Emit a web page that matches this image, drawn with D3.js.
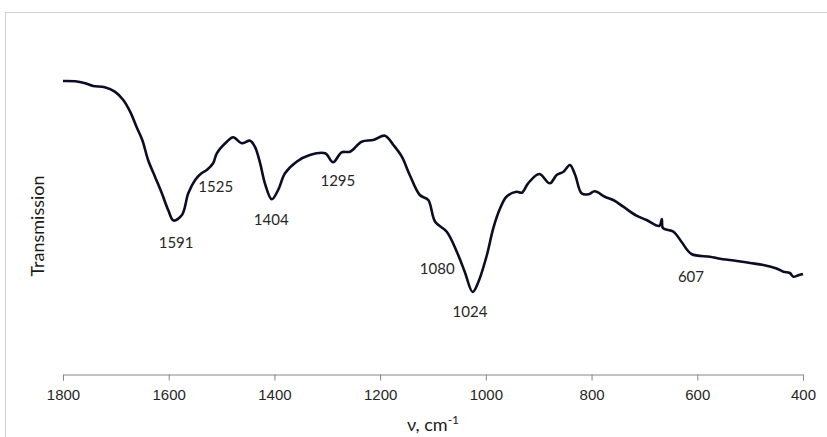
<!DOCTYPE html>
<html>
<head>
<meta charset="utf-8">
<script src="https://cdn.jsdelivr.net/npm/d3@7"></script>
<style>
    body { margin: 0; background: #fff; }
    svg { display: block; font-family: Lato, 'Open Sans', sans-serif; }
</style>
</head>
<body>
<div id="spectrum"></div>
<script>
// wavenumbers (cm-1) and transmission (arbitrary units)
const wavenumbers = [1800, 1777, 1758, 1743, 1721, 1702, 1686, 1673, 1661, 1650, 1639, 1626, 1613, 1601,
    1591, 1575, 1563, 1550, 1538, 1528, 1516, 1509, 1490, 1478, 1462, 1446, 1437, 1427, 1418, 1405,
    1393, 1380, 1358, 1333, 1304, 1289, 1273, 1257, 1235, 1213, 1191, 1175, 1159, 1144, 1125, 1109,
    1096, 1074, 1055, 1040, 1025, 1014, 998, 986, 973, 961, 942, 932, 920, 899, 879, 866, 853, 841,
    831, 819, 806, 794, 775, 759, 740, 715, 696, 672, 667, 665, 645, 630, 611, 576, 560, 525, 500,
    475, 450, 437, 425, 418, 410, 400];
const transmission = [293, 292.7, 290.7, 288, 286.7, 282.3, 274, 262.3, 247.3, 234, 214, 197.3, 180.7, 164,
    153.5, 159, 180.7, 194, 200.7, 204, 210.7, 220.7, 232.3, 236.7, 230.7, 233.3, 227.3, 210.7, 190.7, 174.7,
    184, 200.7, 212.3, 219, 220.7, 211.7, 221.7, 222.3, 232.3, 234, 238.3, 229, 217.3, 199, 179, 174,
    152.3, 142.3, 122.3, 102.3, 82, 92.3, 119, 145.7, 165.7, 177.3, 182.3, 181.3, 190.7, 200, 190.7, 199, 202.3, 209,
    199, 180.7, 179.7, 182.7, 177.3, 174, 167.3, 158.3, 154, 148, 155, 146, 142.3, 132.3, 120, 117.3, 115.5, 113, 111,
    109, 105.5, 102.3, 101, 97.3, 98.5, 100];

// peak annotations: text, and where the label sits (wavenumber, transmission)
const peakNames = ['1591', '1525', '1404', '1295', '1080', '1024', '607'];
const peakLabelWn = [1586, 1511, 1406, 1280, 1092, 1030, 612];
const peakLabelT = [132, 188, 155, 194, 106, 63, 98];

const xTicks = [1800, 1600, 1400, 1200, 1000, 800, 600, 400];

const width = 827;
const height = 437;
const plotLeft = 63;
const plotRight = 803;
const axisY = 374;

function drawSpectrum() {
    const svg = d3.select('#spectrum')
        .append('svg')
        .attr('width', width)
        .attr('height', height);

    // chart frame
    svg.append('rect')
        .attr('x', 5.5)
        .attr('y', 12.5)
        .attr('width', 840)
        .attr('height', 440)
        .attr('fill', 'none')
        .attr('stroke', '#d0d0d0');

    const xScale = d3.scaleLinear()
        .domain([1800, 400])
        .range([plotLeft, plotRight]);

    const yScale = d3.scaleLinear()
        .domain([0, 300])
        .range([axisY, axisY - 300]);

    const xAxis = d3.axisBottom(xScale)
        .tickValues(xTicks)
        .tickFormat(d3.format('d'))
        .tickSize(6)
        .tickSizeOuter(6)
        .tickPadding(9);

    const xAxisGroup = svg.append('g')
        .attr('id', 'x-axis')
        .attr('transform', `translate(0, ${axisY + 0.5})`)
        .call(xAxis);

    xAxisGroup.selectAll('path, line').attr('stroke', '#868686');
    xAxisGroup.selectAll('text')
        .attr('fill', '#262626')
        .style('font-size', '15px');

    const line = d3.line()
        .x((d, i) => xScale(wavenumbers[i]))
        .y(d => yScale(d))
        .curve(d3.curveCatmullRom.alpha(0.5));

    svg.append('path')
        .datum(transmission)
        .attr('d', line)
        .attr('fill', 'none')
        .attr('stroke', '#0c0c24')
        .attr('stroke-width', 2.6)
        .attr('stroke-linejoin', 'round');

    svg.selectAll('.peak-label')
        .data(peakNames)
        .enter()
        .append('text')
        .attr('class', 'peak-label')
        .attr('x', (d, i) => xScale(peakLabelWn[i]))
        .attr('y', (d, i) => yScale(peakLabelT[i]))
        .attr('text-anchor', 'middle')
        .attr('dominant-baseline', 'central')
        .attr('fill', '#262626')
        .style('font-size', '15px')
        .text(d => d);

    // axis titles
    const xTitle = svg.append('text')
        .attr('x', (plotLeft + plotRight) / 2)
        .attr('y', 431)
        .attr('text-anchor', 'middle')
        .attr('fill', '#1a1a1a')
        .style('font-size', '18px');
    xTitle.append('tspan').text('ν, cm');
    xTitle.append('tspan')
        .attr('dy', -7)
        .style('font-size', '12px')
        .text('-1');

    svg.append('text')
        .attr('transform', 'translate(44, 226) rotate(-90)')
        .attr('text-anchor', 'middle')
        .attr('fill', '#1a1a1a')
        .style('font-size', '18px')
        .text('Transmission');
}

document.addEventListener('DOMContentLoaded', () => drawSpectrum());
</script>
</body>
</html>
